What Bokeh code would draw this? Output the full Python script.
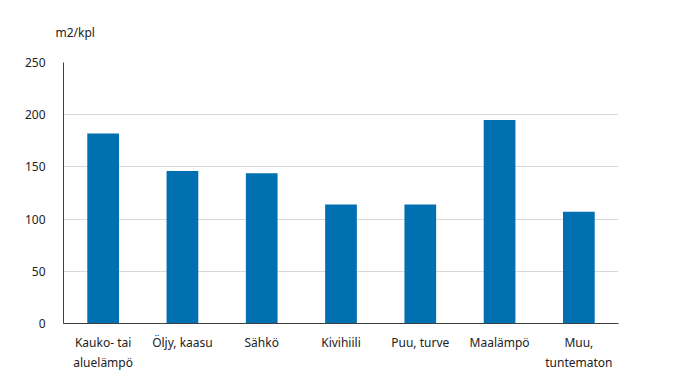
from bokeh.plotting import figure
from bokeh.models import ColumnDataSource, Range1d, FixedTicker
from bokeh.embed import file_html
from bokeh.resources import INLINE

categories = ["Kauko- tai\naluelämpö", "Öljy, kaasu", "Sähkö", "Kivihiili",
              "Puu, turve", "Maalämpö", "Muu,\ntuntematon"]
values = [182, 146, 144, 114, 114, 195, 107]
y_ticks = [0, 50, 100, 150, 200, 250]
unit_label = "m2/kpl"

FONT = "Noto Sans"

src = ColumnDataSource(dict(cat=categories, val=values))

p = figure(x_range=categories, y_range=Range1d(0, 250), width=660, height=373,
           output_backend="svg", toolbar_location=None, title=unit_label,
           min_border_left=63, min_border_right=42, min_border_top=62, min_border_bottom=41)
p.x_range.range_padding = 0
p.vbar(x="cat", top="val", width=0.4, source=src, color="#0070b0", line_color=None)

p.title.align = "left"
p.title.offset = -8
p.title.standoff = 43
p.title.text_font = FONT
p.title.text_font_size = "12px"
p.title.text_font_style = "normal"
p.title.text_color = "#222222"

p.outline_line_color = None
p.xgrid.grid_line_color = None
p.ygrid.grid_line_color = "#d9d9d9"
p.ygrid.grid_line_width = 1

p.yaxis.ticker = FixedTicker(ticks=y_ticks)
p.yaxis.major_tick_line_color = None
p.yaxis.minor_tick_line_color = None
p.yaxis.axis_line_color = "#404040"
p.yaxis.major_label_text_font = FONT
p.yaxis.major_label_text_font_size = "12px"
p.yaxis.major_label_text_color = "#222222"
p.yaxis.major_label_standoff = 12

p.xaxis.major_tick_line_color = None
p.xaxis.minor_tick_line_color = None
p.xaxis.axis_line_color = "#404040"
p.xaxis.major_label_text_font = FONT
p.xaxis.major_label_text_font_size = "12px"
p.xaxis.major_label_text_color = "#222222"
p.xaxis.major_label_standoff = 4

open("out.html", "w").write(file_html(p, INLINE))
